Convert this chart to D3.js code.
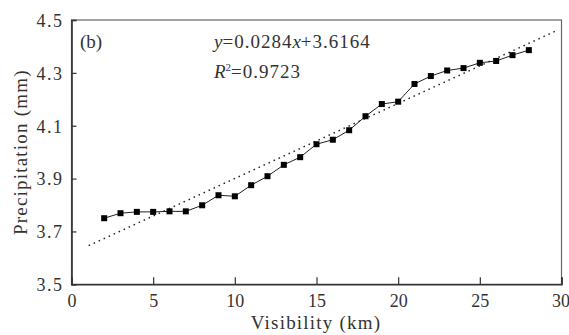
<!DOCTYPE html>
<html><head><meta charset="utf-8">
<script src="https://cdn.jsdelivr.net/npm/d3@7"></script>
</head>
<body style="margin:0;background:#fff"><svg id="c" width="569" height="335"></svg>
<script>
const visibility = [2,3,4,5,6,7,8,9,10,11,12,13,14,15,16,17,18,19,20,21,22,23,24,25,26,27,28];
const precipitation = [3.750,3.769,3.774,3.774,3.776,3.776,3.799,3.837,3.833,3.875,3.909,3.952,3.981,4.030,4.047,4.083,4.136,4.182,4.191,4.258,4.288,4.309,4.318,4.338,4.345,4.367,4.386];
const slope = 0.0284, intercept = 3.6164;
const trendRange = [1.05, 29.8];
const xTicks = [0,5,10,15,20,25,30];
const yTicks = [3.5,3.7,3.9,4.1,4.3,4.5];

const FONT = "'Liberation Serif'";
const svg = d3.select("#c");
const L=71.5, R=561.5, T=20, B=284.3;
const x = d3.scaleLinear().domain([0,30]).range([L,R]);
const y = d3.scaleLinear().domain([3.5,4.5]).range([B,T]);

// frame
svg.append("rect").attr("x",L).attr("y",T).attr("width",R-L).attr("height",B-T)
  .attr("fill","none").attr("stroke","#666").attr("stroke-width",1.2);

const xAxis = svg.append("g").attr("transform",`translate(0,${B})`)
  .call(d3.axisBottom(x).tickValues(xTicks).tickSize(-7).tickPadding(10).tickFormat(d3.format("d")));
const yAxis = svg.append("g").attr("transform",`translate(${L},0)`)
  .call(d3.axisLeft(y).tickValues(yTicks).tickSize(-5).tickPadding(8).tickFormat(d3.format(".1f")));
[xAxis,yAxis].forEach(g=>{
  g.attr("font-family",null);
  g.select(".domain").attr("stroke","#333").attr("stroke-width",1.6);
  g.selectAll(".tick line").attr("stroke","#333").attr("stroke-width",1.2);
  g.selectAll(".tick text").style("font-family",FONT).attr("font-size",18).attr("fill","#333");
});
yAxis.selectAll(".tick text").attr("dy","0.35em").attr("letter-spacing","1.5px");
xAxis.selectAll(".tick text").attr("dy","0.71em");
xAxis.selectAll(".tick").filter(d=>d===30).select("text").attr("text-anchor","end").attr("dx","8");

// trend line
svg.append("line")
  .attr("x1",x(trendRange[0])).attr("y1",y(slope*trendRange[0]+intercept))
  .attr("x2",x(trendRange[1])).attr("y2",y(slope*trendRange[1]+intercept))
  .attr("stroke","#222").attr("stroke-width",1.5).attr("stroke-dasharray","1.5,4");

const pts = visibility.map((v,i)=>[v,precipitation[i]]);
svg.append("path").datum(pts)
  .attr("d",d3.line().x(d=>x(d[0])).y(d=>y(d[1])))
  .attr("fill","none").attr("stroke","#222").attr("stroke-width",1);
svg.selectAll("rect.m").data(pts).enter().append("rect").attr("class","m")
  .attr("x",d=>x(d[0])-3).attr("y",d=>y(d[1])-3).attr("width",6).attr("height",6).attr("fill","#000");

// texts
const T1 = (sel)=>sel.style("font-family",FONT).attr("fill","#333");
T1(svg.append("text").attr("x",80).attr("y",48).attr("font-size",19).text("(b)"));
const eq = T1(svg.append("text").attr("x",214).attr("y",48).attr("font-size",19));
eq.append("tspan").attr("font-style","italic").text("y");
eq.append("tspan").attr("letter-spacing","1px").text("=0.0284");
eq.append("tspan").attr("font-style","italic").text("x");
eq.append("tspan").attr("letter-spacing","1px").text("+3.6164");
const r2 = T1(svg.append("text").attr("x",214).attr("y",78).attr("font-size",19));
r2.append("tspan").attr("font-style","italic").text("R");
r2.append("tspan").attr("font-size",11).attr("dy",-7).text("2");
r2.append("tspan").attr("dy",7).attr("letter-spacing","1px").text("=0.9723");

T1(svg.append("text").attr("x",316).attr("y",329).attr("text-anchor","middle").attr("font-size",19)
  .attr("letter-spacing","1.2px").text("Visibility (km)"));
T1(svg.append("text").attr("transform",`translate(27,${(T+B)/2}) rotate(-90)`).attr("text-anchor","middle")
  .attr("font-size",19).attr("letter-spacing","1.2px").text("Precipitation (mm)"));
</script></body></html>
